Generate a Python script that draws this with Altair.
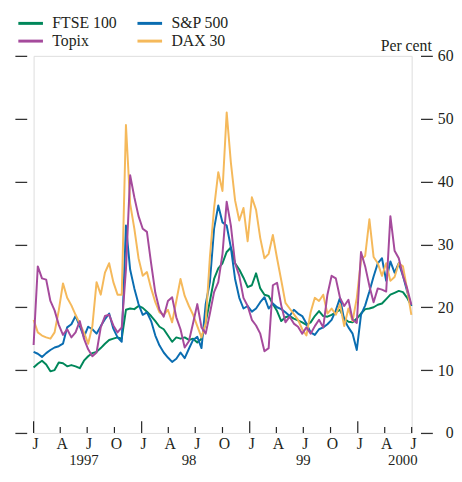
import altair as alt
import pandas as pd

# ---- data ----
series_names = ["FTSE 100", "Topix", "S&P 500", "DAX 30"]   # legend fills column-wise
series_colors = ["#00875a", "#a54a9c", "#0a6db1", "#f5b95b"]
draw_order = ["FTSE 100", "S&P 500", "DAX 30", "Topix"]

start_date = "1997-01-01"
end_date = "2000-06-30"
n_points = 91

ftse = [10.4, 11.0, 11.5, 10.9, 9.8, 10.0, 11.2, 11.1, 10.6, 10.8,
        10.6, 10.3, 11.5, 12.2, 12.7, 12.9, 13.5, 14.2, 14.8, 15.0,
        15.2, 15.0, 19.6, 19.8, 19.7, 20.2, 19.9, 19.3, 18.6, 17.8,
        16.9, 16.5, 15.5, 14.5, 15.2, 15.0, 15.2, 14.8, 15.0, 14.4,
        15.0, 17.6, 21.0, 24.5, 26.2, 27.0, 28.8, 29.5, 27.0, 26.0,
        24.7, 23.2, 23.5, 25.4, 23.0, 22.0, 21.8, 20.5, 19.4, 17.8,
        18.4, 18.6, 18.2, 17.9, 17.6, 17.2, 17.6, 18.6, 19.4, 18.6,
        18.5, 18.8, 19.2, 19.6, 18.2, 17.7, 17.6, 18.2, 19.0, 19.7,
        19.8, 20.0, 20.4, 20.6, 21.3, 22.0, 22.3, 22.6, 22.4, 21.5,
        20.2]

sp500 = [12.9, 12.6, 12.1, 12.7, 13.2, 13.6, 13.8, 14.2, 16.8, 17.3,
         18.6, 17.0, 15.3, 16.9, 16.5, 15.8, 17.0, 18.1, 19.0, 16.6,
         15.2, 14.5, 33.0, 26.0, 23.0, 20.5, 18.8, 19.2, 17.8, 15.5,
         13.9, 12.8, 12.0, 11.3, 11.8, 12.8, 11.9, 13.4, 14.8, 15.3,
         13.5, 20.5, 24.0, 32.5, 36.2, 33.5, 33.0, 29.5, 24.5, 21.5,
         19.8, 20.2, 19.3, 19.8, 20.8, 21.6, 19.8, 20.6, 20.0, 19.7,
         19.2, 18.6, 19.6, 19.0, 18.6, 17.4, 16.0, 15.6, 16.5, 16.8,
         17.3, 18.0, 19.5, 21.5, 18.0, 16.8, 15.8, 13.2, 18.8, 20.3,
         22.5, 24.9, 27.0, 27.8, 24.2, 27.3, 25.5, 27.0, 25.0, 22.5,
         20.2]

topix = [14.0, 26.5, 24.6, 24.4, 21.0, 19.5, 17.2, 15.6, 16.5, 15.2,
         16.0, 17.8, 15.0, 13.3, 12.2, 12.8, 16.8, 18.6, 18.8, 17.1,
         16.0, 16.8, 26.0, 41.0, 37.5, 34.5, 32.5, 32.0, 27.0, 22.3,
         19.6, 18.5, 21.0, 21.6, 18.4, 16.5, 13.6, 14.6, 17.5, 20.5,
         16.8, 15.8, 19.0, 22.4, 24.0, 28.5, 36.8, 33.0, 27.0, 25.0,
         21.5, 20.2, 18.0, 17.1, 15.8, 13.0, 13.5, 23.5, 23.9, 20.3,
         17.6, 18.5, 17.4, 16.9, 15.8, 16.8, 15.8, 17.0, 18.0, 16.8,
         22.0, 25.0, 24.6, 21.5, 20.2, 21.2, 18.0, 17.5, 28.8, 26.5,
         23.4, 20.8, 23.0, 22.8, 22.5, 34.5, 29.0, 27.8, 25.0, 23.0,
         20.4]

dax = [18.0, 16.0, 15.5, 15.2, 15.0, 16.0, 19.5, 23.8, 21.5, 20.3,
       18.8, 17.4, 16.0, 14.2, 17.0, 24.0, 22.0, 25.5, 27.0, 24.0,
       22.0, 22.0, 49.0, 36.5, 32.5, 27.8, 25.0, 25.6, 23.0, 20.8,
       19.2, 18.8, 19.6, 17.6, 21.0, 24.5, 21.8, 20.2, 18.8, 17.0,
       15.2, 17.5, 28.0, 35.8, 41.5, 38.5, 51.0, 43.0, 37.0, 33.8,
       35.8, 30.5, 37.5, 35.5, 31.0, 27.8, 28.5, 31.5, 27.8, 24.3,
       20.7, 19.8, 18.9, 18.0, 16.5, 15.5, 19.2, 21.5, 21.0, 22.0,
       19.0, 19.8, 18.8, 20.5, 17.0, 19.8, 17.8, 21.5, 27.5, 28.2,
       34.0, 28.0, 27.0, 25.0, 27.0, 24.2, 24.8, 27.0, 26.5, 22.8,
       18.8]

y_ticks = [0, 10, 20, 30, 40, 50, 60]
month_letters = "JFMAMJJASOND"
year_labels = ["1997", "98", "99", "2000"]
year_label_dates = ["1997-06-20", "1998-06-10", "1999-07-01", "2000-06-01"]
quarter_start = "1997-01-01"
quarter_end = "2000-07-01"

# ---- build tables ----
dates = pd.date_range(start_date, end_date, periods=n_points)
values = {"FTSE 100": ftse, "S&P 500": sp500, "Topix": topix, "DAX 30": dax}
frames = []
for i, name in enumerate(draw_order):
    frames.append(pd.DataFrame({"date": dates, "value": values[name],
                                "series": name, "ord": i}))
df = pd.concat(frames, ignore_index=True)

quarters = pd.date_range(quarter_start, quarter_end, freq="QS")
ticks_df = pd.DataFrame({"date": quarters,
                         "major": [d.month == 1 for d in quarters],
                         "letter": [month_letters[d.month - 1] for d in quarters]})
years_df = pd.DataFrame({"date": pd.to_datetime(year_label_dates), "label": year_labels})

FONT = "Liberation Serif"
TXT = "#231f20"
H = 383

x_domain = [alt.DateTime(year=1997, month=1, date=1),
            alt.DateTime(year=2000, month=7, date=1)]
x_scale = alt.Scale(domain=x_domain)
y_scale = alt.Scale(domain=[0, 60], nice=False)

lines = alt.Chart(df).mark_line(strokeWidth=2, strokeJoin="round").encode(
    x=alt.X("date:T", scale=x_scale, title=None,
            axis=alt.Axis(labels=False, ticks=False, grid=False, domain=True,
                          domainColor="#000", domainWidth=1, title=None)),
    y=alt.Y("value:Q", scale=y_scale,
            axis=alt.Axis(orient="right", values=y_ticks, tickSize=12, offset=9,
                          domain=False, grid=False, tickColor="#333", tickWidth=1.3,
                          labelAlign="right", labelBaseline="middle", labelPadding=21,
                          labelFont=FONT, labelFontSize=16, labelColor=TXT,
                          title="Per cent", titleAngle=0, titleAlign="right",
                          titleBaseline="alphabetic", titleX=11, titleY=-5,
                          titleFont=FONT, titleFontSize=16, titleFontWeight="normal",
                          titleColor=TXT)),
    color=alt.Color("series:N",
                    scale=alt.Scale(domain=series_names, range=series_colors),
                    legend=alt.Legend(orient="none", legendX=-11, legendY=-41,
                                      columns=2, title=None,
                                      symbolType="M-2.5,0H2.5",
                                      symbolSize=100, symbolStrokeWidth=3,
                                      labelFont=FONT, labelFontSize=16, labelColor=TXT,
                                      labelOffset=14, columnPadding=14, rowPadding=2)),
    order=alt.Order("ord:Q"),
)

left_axis = alt.Chart(df).mark_line(strokeOpacity=0).encode(
    x=alt.X("date:T", scale=x_scale, axis=None),
    y=alt.Y("value:Q", scale=y_scale,
            axis=alt.Axis(orient="left", values=y_ticks, tickSize=12, offset=7,
                          labels=False, domain=False, grid=False, title=None,
                          tickColor="#333", tickWidth=1.3)),
    detail="series:N",
)

major_ticks = alt.Chart(ticks_df).transform_filter("datum.major").mark_rule(
    color="#222", strokeWidth=1.2).encode(
    x=alt.X("date:T", scale=x_scale, axis=None),
    y=alt.value(H), y2=alt.value(H - 12))

minor_ticks = alt.Chart(ticks_df).transform_filter("!datum.major").mark_rule(
    color="#222", strokeWidth=1.2).encode(
    x=alt.X("date:T", scale=x_scale, axis=None),
    y=alt.value(H), y2=alt.value(H - 6))

month_text = alt.Chart(ticks_df).mark_text(
    font=FONT, fontSize=16, color=TXT, align="center", baseline="alphabetic", dx=2).encode(
    x=alt.X("date:T", scale=x_scale, axis=None),
    y=alt.value(H + 16), text="letter:N")

year_text = alt.Chart(years_df).mark_text(
    font=FONT, fontSize=15, color=TXT, align="center", baseline="alphabetic").encode(
    x=alt.X("date:T", scale=x_scale, axis=None),
    y=alt.value(H + 33), text="label:N")

chart = alt.layer(lines, left_axis, major_ticks, minor_ticks, month_text, year_text).resolve_axis(
    y="independent").properties(
    width=384, height=H,
    autosize=alt.AutoSizeParams(type="none"),
    padding={"left": 26, "top": 45, "right": 43, "bottom": 33},
).configure_view(stroke=None).configure(background="white")

chart.save("out.html", embed_options={"renderer": "svg", "actions": False})
